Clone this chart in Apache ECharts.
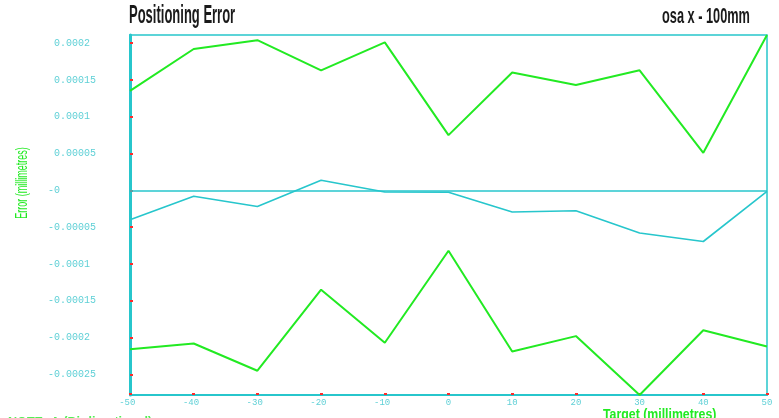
<!DOCTYPE html>
<html>
<head>
<meta charset="utf-8">
<script src="https://cdn.jsdelivr.net/npm/echarts@6/dist/echarts.min.js"></script>
<style>
html,body{margin:0;padding:0;background:#fff;}
#c{width:779px;height:418px;}
</style>
</head>
<body>
<div id="c"></div>
<script>
// ---- data ----
var targets = [-50, -40, -30, -20, -10, 0, 10, 20, 30, 40, 50];
var upperError = [0.000135, 0.000192, 0.000204, 0.000163, 0.000201, 0.000075, 0.000160, 0.000143, 0.000163, 0.000051, 0.000211];
var meanError = [-0.000040, -0.000008, -0.000022, 0.0000136, -0.0000023, -0.0000025, -0.0000295, -0.0000277, -0.000058, -0.0000695, -0.0000014];
var lowerError = [-0.000216, -0.000208, -0.000245, -0.000135, -0.000207, -0.000082, -0.000219, -0.000198, -0.000278, -0.000190, -0.000212];
var yTickValues = [0.0002, 0.00015, 0.0001, 0.00005, 0, -0.00005, -0.0001, -0.00015, -0.0002, -0.00025];
var yTickLabels = [' 0.0002', ' 0.00015', ' 0.0001', ' 0.00005', '-0', '-0.00005', '-0.0001', '-0.00015', '-0.0002', '-0.00025'];
var xTickLabels = ['-50 ', '-40 ', '-30 ', '-20 ', '-10 ', '0', '10', '20', '30', '40', '50'];
var yMin = -0.000278, yMax = 0.000211;

function pairs(vals) { return targets.map(function (t, i) { return [t, vals[i]]; }); }

var GREEN = '#22ea22', CYAN = '#27c6cc', LABEL = '#5fd0d6', RED = '#ff2a2a';
var chart = echarts.init(document.getElementById('c'), null, {renderer: 'canvas'});
chart.setOption({
  animation: false,
  backgroundColor: '#fff',
  grid: {left: 130, right: 12, top: 35, bottom: 23, show: true, borderColor: CYAN, borderWidth: 1.5, backgroundColor: 'transparent'},
  xAxis: {
    type: 'value', min: -50, max: 50, interval: 10,
    axisLine: {show: true, onZero: false, lineStyle: {color: CYAN, width: 2}},
    axisTick: {show: true, inside: true, length: 2, lineStyle: {color: RED, width: 3}},
    splitLine: {show: false},
    axisLabel: {
      margin: 3, color: LABEL, fontFamily: 'Liberation Mono', fontSize: 9,
      formatter: function (v) { var i = targets.indexOf(Math.round(v)); return i >= 0 ? xTickLabels[i] : ''; }
    }
  },
  yAxis: {
    type: 'value', min: yMin, max: yMax,
    axisLine: {show: true, onZero: false, lineStyle: {color: CYAN, width: 3}},
    axisTick: {show: true, inside: true, length: 3, customValues: yTickValues, lineStyle: {color: RED, width: 2}},
    splitLine: {show: false},
    axisLabel: {
      customValues: yTickValues, align: 'left', margin: 82, color: LABEL,
      fontFamily: 'Liberation Mono', fontSize: 10, padding: [0, 0, 6, 0],
      formatter: function (v) {
        var best = 0, d = Infinity;
        for (var i = 0; i < yTickValues.length; i++) { var dd = Math.abs(yTickValues[i] - v); if (dd < d) { d = dd; best = i; } }
        return yTickLabels[best];
      }
    }
  },
  series: [
    {type: 'line', data: pairs(upperError), symbol: 'none', lineStyle: {color: GREEN, width: 2}, itemStyle: {color: GREEN}},
    {type: 'line', data: pairs(meanError), symbol: 'none', lineStyle: {color: CYAN, width: 1.6}, itemStyle: {color: CYAN},
      markLine: {silent: true, symbol: 'none', label: {show: false}, lineStyle: {color: CYAN, type: 'solid', width: 1.6}, data: [{yAxis: 0}]}},
    {type: 'line', data: pairs(lowerError), symbol: 'none', lineStyle: {color: GREEN, width: 2}, itemStyle: {color: GREEN}}
  ],
  graphic: [
    {type: 'text', x: 129, y: 16, scaleX: 0.5, style: {text: 'Positioning Error', fontFamily: 'Liberation Sans', fontSize: 26, fontWeight: 'bold', fill: '#1a1a1a', verticalAlign: 'middle', align: 'left'}},
    {type: 'text', x: 662, y: 17, scaleX: 0.58, style: {text: 'osa x - 100mm', fontFamily: 'Liberation Sans', fontSize: 22, fontWeight: 'bold', fill: '#1a1a1a', verticalAlign: 'middle', align: 'left'}},
    {type: 'text', x: 22, y: 183, rotation: Math.PI / 2, scaleX: 0.53, style: {text: 'Error (millimetres)', fontFamily: 'Liberation Sans', fontSize: 17, fill: GREEN, verticalAlign: 'middle', align: 'center'}},
    {type: 'text', x: 603, y: 408, scaleX: 0.88, style: {text: 'Target (millimetres)', fontFamily: 'Liberation Sans', fontSize: 14, fontWeight: 'bold', fill: GREEN, verticalAlign: 'top', align: 'left'}},
    {type: 'text', x: 8, y: 416, scaleX: 0.9, style: {text: 'NOTE: A (Bi-directional)', fontFamily: 'Liberation Sans', fontSize: 14, fontWeight: 'bold', fill: '#55ee55', verticalAlign: 'top', align: 'left'}}
  ]
});
</script>
</body>
</html>
